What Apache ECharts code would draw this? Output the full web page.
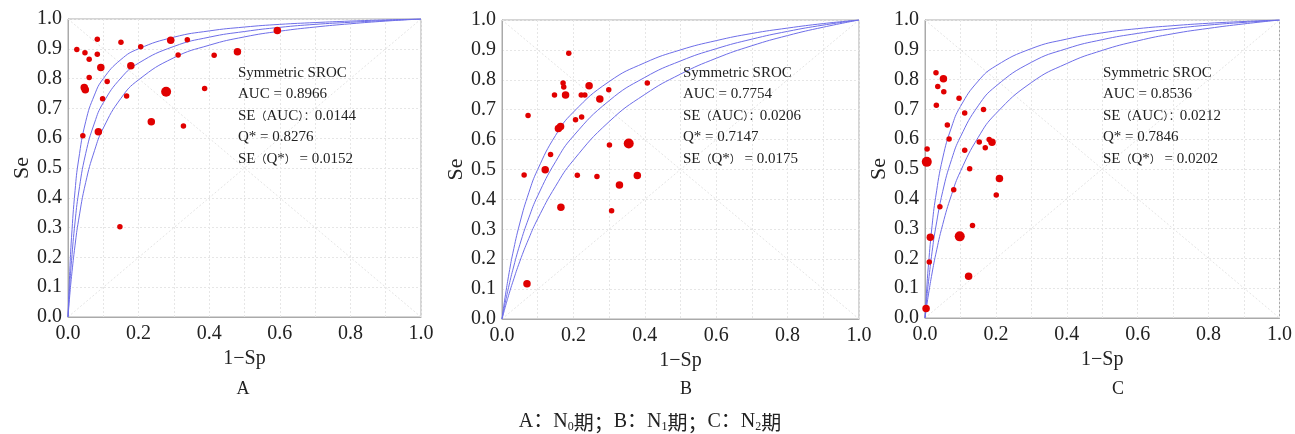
<!DOCTYPE html>
<html>
<head>
<meta charset="utf-8">
<script src="https://cdn.jsdelivr.net/npm/echarts@6/dist/echarts.min.js"></script>
<style>
html,body{margin:0;padding:0;background:#fff;}
#c{width:1295px;height:434px;}
</style>
</head>
<body>
<div id="c"></div>
<script>
// ---------- data ----------
const curveX = [0, 0.005, 0.01, 0.02, 0.03, 0.05, 0.075, 0.1, 0.15, 0.2, 0.3, 0.4, 0.5, 0.6, 0.7, 0.8, 0.9, 1];

// Panel A (N0): SROC curve and its upper / lower bounds
const aCurveUpper = [0, 0.153, 0.267, 0.424, 0.527, 0.655, 0.745, 0.800, 0.864, 0.900, 0.939, 0.960, 0.973, 0.982, 0.988, 0.993, 0.997, 1];
const aCurveMid   = [0, 0.104, 0.189, 0.319, 0.416, 0.548, 0.651, 0.719, 0.802, 0.852, 0.908, 0.939, 0.958, 0.972, 0.982, 0.989, 0.995, 1];
const aCurveLower = [0, 0.073, 0.136, 0.241, 0.325, 0.451, 0.558, 0.634, 0.734, 0.796, 0.870, 0.912, 0.940, 0.959, 0.973, 0.984, 0.993, 1];
const aFpr = [0.025, 0.048, 0.083, 0.083, 0.060, 0.093, 0.060, 0.111, 0.046, 0.049, 0.098, 0.150, 0.206, 0.178, 0.166, 0.291, 0.338, 0.312, 0.414, 0.480, 0.278, 0.387, 0.236, 0.327, 0.042, 0.086, 0.593, 0.147];
const aSe  = [0.898, 0.887, 0.932, 0.882, 0.865, 0.837, 0.804, 0.790, 0.770, 0.763, 0.732, 0.922, 0.907, 0.843, 0.742, 0.929, 0.930, 0.879, 0.878, 0.890, 0.756, 0.767, 0.655, 0.641, 0.608, 0.622, 0.961, 0.303];
const aWeight = [1, 1, 1, 1, 1, 2, 1, 1, 2, 2, 1, 1, 1, 2, 1, 2, 1, 1, 1, 2, 3, 1, 2, 1, 1, 2, 2, 1];
const aStats = ['Symmetric SROC', 'AUC = 0.8966', 'SE（AUC）：0.0144', 'Q* = 0.8276', 'SE（Q*） = 0.0152'];

// Panel B (N1)
const bCurveUpper = [0, 0.043, 0.083, 0.155, 0.218, 0.321, 0.422, 0.500, 0.614, 0.692, 0.794, 0.857, 0.900, 0.931, 0.955, 0.973, 0.988, 1];
const bCurveMid   = [0, 0.031, 0.060, 0.114, 0.163, 0.249, 0.338, 0.412, 0.526, 0.612, 0.730, 0.808, 0.863, 0.904, 0.936, 0.962, 0.983, 1];
const bCurveLower = [0, 0.022, 0.044, 0.085, 0.123, 0.193, 0.269, 0.335, 0.444, 0.531, 0.660, 0.751, 0.819, 0.872, 0.914, 0.948, 0.976, 1];
const bFpr = [0.187, 0.073, 0.171, 0.173, 0.147, 0.178, 0.222, 0.232, 0.244, 0.274, 0.299, 0.206, 0.223, 0.164, 0.158, 0.407, 0.301, 0.355, 0.136, 0.121, 0.062, 0.211, 0.266, 0.379, 0.329, 0.165, 0.307, 0.070];
const bSe  = [0.889, 0.681, 0.789, 0.776, 0.749, 0.749, 0.749, 0.749, 0.780, 0.736, 0.767, 0.666, 0.676, 0.644, 0.637, 0.789, 0.582, 0.587, 0.550, 0.499, 0.482, 0.481, 0.477, 0.480, 0.448, 0.374, 0.362, 0.118];
const bWeight = [1, 1, 1, 1, 1, 2, 1, 1, 2, 2, 1, 1, 1, 2, 2, 1, 1, 3, 1, 2, 1, 1, 1, 2, 2, 2, 1, 2];
const bStats = ['Symmetric SROC', 'AUC = 0.7754', 'SE（AUC）：0.0206', 'Q* = 0.7147', 'SE（Q*） = 0.0175'];

// Panel C (N2)
const cCurveUpper = [0, 0.100, 0.182, 0.310, 0.405, 0.537, 0.641, 0.710, 0.795, 0.846, 0.904, 0.936, 0.957, 0.971, 0.981, 0.989, 0.995, 1];
const cCurveMid   = [0, 0.066, 0.123, 0.222, 0.302, 0.425, 0.532, 0.608, 0.712, 0.778, 0.858, 0.904, 0.934, 0.955, 0.971, 0.983, 0.992, 1];
const cCurveLower = [0, 0.042, 0.081, 0.151, 0.212, 0.314, 0.414, 0.492, 0.606, 0.686, 0.790, 0.854, 0.898, 0.930, 0.954, 0.972, 0.987, 1];
const cFpr = [0.031, 0.052, 0.036, 0.053, 0.032, 0.096, 0.112, 0.063, 0.068, 0.165, 0.153, 0.181, 0.189, 0.170, 0.112, 0.126, 0.006, 0.005, 0.210, 0.081, 0.201, 0.042, 0.015, 0.098, 0.134, 0.012, 0.123, 0.003];
const cSe  = [0.823, 0.803, 0.777, 0.759, 0.714, 0.737, 0.688, 0.648, 0.601, 0.700, 0.591, 0.599, 0.590, 0.571, 0.563, 0.501, 0.567, 0.524, 0.468, 0.430, 0.413, 0.373, 0.271, 0.274, 0.310, 0.188, 0.140, 0.032];
const cWeight = [1, 2, 1, 1, 1, 1, 1, 1, 1, 1, 1, 1, 2, 1, 1, 1, 1, 3, 2, 1, 1, 1, 2, 3, 1, 1, 2, 2];
const cStats = ['Symmetric SROC', 'AUC = 0.8536', 'SE（AUC）：0.0212', 'Q* = 0.7846', 'SE（Q*） = 0.0202'];

const chanceUp = [[0, 0], [1, 1]];
const chanceDown = [[0, 1], [1, 0]];
const panelLetters = ['A', 'B', 'C'];
const axisNameX = '1−Sp';
const axisNameY = 'Se';

// ---------- layout / style ----------
const panels = [
  {grid: {left: 68, top: 19, width: 353, height: 298}, curves: [aCurveUpper, aCurveMid, aCurveLower], fpr: aFpr, se: aSe, w: aWeight, stats: aStats, textX: 238, letterX: 243},
  {grid: {left: 502, top: 20, width: 357, height: 299}, curves: [bCurveUpper, bCurveMid, bCurveLower], fpr: bFpr, se: bSe, w: bWeight, stats: bStats, textX: 683, letterX: 686},
  {grid: {left: 925, top: 20, width: 357, height: 298}, curves: [cCurveUpper, cCurveMid, cCurveLower], fpr: cFpr, se: cSe, w: cWeight, stats: cStats, textX: 1103, letterX: 1118}
];
const serif = "'Liberation Serif', 'DejaVu Serif', serif";
const dotSize = {1: 5.5, 2: 7.5, 3: 10};
const gridLine = {color: '#e6e6e6', type: [2, 2], width: 1};

const option = {
  animation: false,
  backgroundColor: '#fff',
  grid: [], xAxis: [], yAxis: [], series: [], graphic: []
};

panels.forEach((p, i) => {
  option.grid.push(Object.assign({show: true, borderColor: '#aaa', borderWidth: 1, backgroundColor: '#fff'}, p.grid));
  option.xAxis.push({
    type: 'value', gridIndex: i, min: 0, max: 1, interval: 0.1,
    axisLine: {show: true, lineStyle: {color: '#aaa'}},
    axisTick: {show: false},
    axisLabel: {
      fontFamily: serif, fontSize: 20, color: '#222', margin: 7,
      formatter: v => (Math.round(v * 10) % 2 === 0 ? v.toFixed(1) : '')
    },
    splitLine: {show: true, lineStyle: gridLine},
    name: axisNameX, nameLocation: 'middle', nameGap: 27,
    nameTextStyle: {fontFamily: serif, fontSize: 20, color: '#222'}
  });
  option.yAxis.push({
    type: 'value', gridIndex: i, min: 0, max: 1, interval: 0.1,
    axisLine: {show: true, lineStyle: {color: '#aaa'}},
    axisTick: {show: false},
    axisLabel: {fontFamily: serif, fontSize: 20, color: '#222', margin: 6, formatter: v => v.toFixed(1)},
    splitLine: {show: true, lineStyle: gridLine},
    name: axisNameY, nameLocation: 'middle', nameGap: 32, nameRotate: 90,
    nameTextStyle: {fontFamily: serif, fontSize: 22, color: '#222'}
  });
  [chanceUp, chanceDown].forEach(d => option.series.push({
    type: 'line', xAxisIndex: i, yAxisIndex: i, data: d, symbol: 'none', silent: true,
    lineStyle: {color: '#e4e4e4', width: 1, type: [2, 2]}, z: 1
  }));
  p.curves.forEach(c => option.series.push({
    type: 'line', xAxisIndex: i, yAxisIndex: i, symbol: 'none', smooth: 0.5,
    data: curveX.map((x, k) => [x, c[k]]),
    lineStyle: {color: '#6e6ee8', width: 1}, z: 2
  }));
  option.series.push({
    type: 'scatter', xAxisIndex: i, yAxisIndex: i,
    data: p.fpr.map((x, k) => [x, p.se[k], p.w[k]]),
    symbolSize: d => dotSize[d[2]],
    itemStyle: {color: '#e00000', opacity: 1}, z: 5
  });
  p.stats.forEach((t, k) => option.graphic.push({
    type: 'text', x: p.textX, y: 73 + k * 21.5, z: 10,
    style: {
      text: t.replace(/([（）：]+)/g, '{w|$1}'),
      font: "15px 'Liberation Serif', 'Noto Sans CJK SC', serif", fill: '#222',
      textVerticalAlign: 'middle', verticalAlign: 'middle',
      rich: {w: {fontFamily: "'Noto Sans CJK SC', sans-serif", fontSize: 11, fill: '#222', color: '#222'}}
    }
  }));
  option.graphic.push({
    type: 'text', x: p.letterX, y: 389, z: 10,
    style: {text: panelLetters[i], font: "18px 'Liberation Serif', serif", fill: '#222',
            textAlign: 'center', align: 'center', textVerticalAlign: 'middle', verticalAlign: 'middle'}
  });
});

option.graphic.push({
  type: 'text', x: 650, y: 422, z: 10,
  style: {
    text: '{l|A：N}{s|0}{c|期；}{l|B：N}{s|1}{c|期；}{l|C：N}{s|2}{c|期}',
    textAlign: 'center', align: 'center', textVerticalAlign: 'middle', verticalAlign: 'middle',
    rich: {
      l: {fontFamily: "'Liberation Serif', 'Noto Sans CJK SC', serif", fontSize: 20, fill: '#222', color: '#222'},
      s: {fontFamily: serif, fontSize: 12, fill: '#222', color: '#222', padding: [10, 0, 0, 0]},
      c: {fontFamily: "'Noto Sans CJK SC', sans-serif", fontSize: 20, fill: '#222', color: '#222'}
    }
  }
});

const chart = echarts.init(document.getElementById('c'), null, {renderer: 'canvas'});
chart.setOption(option);
</script>
</body>
</html>
